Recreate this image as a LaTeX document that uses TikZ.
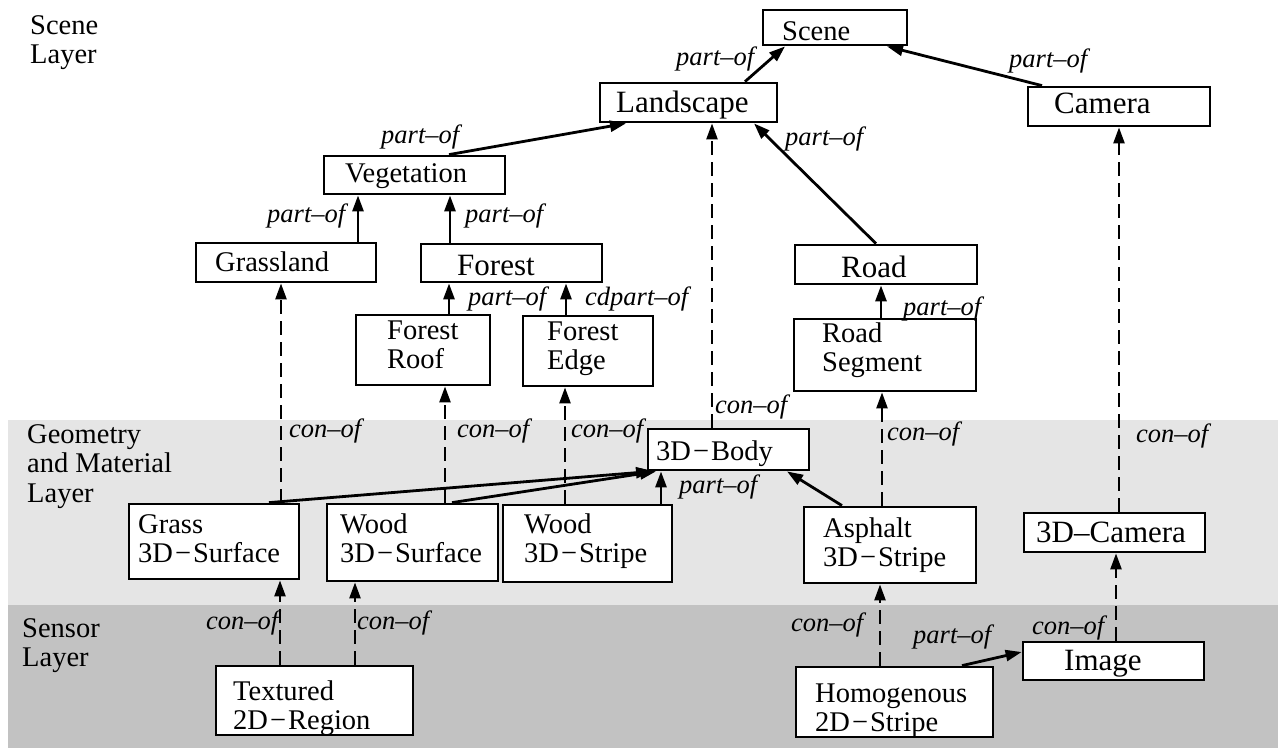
\documentclass[tikz,border=0pt]{standalone}
\usepackage{fontspec}
\setmainfont{Liberation Serif}
\usetikzlibrary{arrows.meta}
\newcommand\twoline[2]{\begin{tabular}[t]{@{}l@{}}#1\\#2\end{tabular}}
\newcommand\dm{\kern2pt−\kern2pt}
\begin{document}
\begin{tikzpicture}[x=1pt,y=-1pt,
  box/.style={draw, line width=2.8pt, fill=white, inner sep=0pt},
  txt/.style={inner sep=0pt, anchor=base west, font=\fontsize{28.5}{29.5}\selectfont},
  bigtxt/.style={inner sep=0pt, anchor=base west, font=\fontsize{31}{33}\selectfont},
  layertxt/.style={inner sep=0pt, anchor=base west, align=left, font=\fontsize{28.5}{29.5}\selectfont},
  lab/.style={inner sep=0pt, anchor=base west, font=\fontsize{26.5}{28}\selectfont\itshape},
  solidarrow/.style={line width=2.8pt, -{Triangle[length=16pt,width=11pt]}},
  dasharrow/.style={line width=2.4pt, dash pattern=on 14pt off 7pt, -{Triangle[length=16pt,width=11pt]}}
]
\useasboundingbox (0,0) rectangle (1278,748);
\fill[white] (0,0) rectangle (1278,748);
% layer bands
\fill[gray!20] (8,420) rectangle (1278,605);
\fill[gray!48] (8,605) rectangle (1278,748);

% layer labels
\node[layertxt] (lscene) at (30,34) {\twoline{Scene}{Layer}};
\node[layertxt] (lgeom) at (27,443) {\begin{tabular}[t]{@{}l@{}}Geometry\\and Material\\Layer\end{tabular}};
\node[layertxt] (lsensor) at (22,637) {\twoline{Sensor}{Layer}};

% boxes
\node[box, minimum width=144, minimum height=35] (scene) at (835,27.5) {};
\node[box, minimum width=177, minimum height=39] (land) at (688.5,102.5) {};
\node[box, minimum width=182, minimum height=39] (cam) at (1119,106.5) {};
\node[box, minimum width=181, minimum height=38] (veg) at (414.5,175) {};
\node[box, minimum width=180, minimum height=39] (grassland) at (286,262.5) {};
\node[box, minimum width=181, minimum height=38] (forest) at (511.5,263) {};
\node[box, minimum width=182, minimum height=39] (road) at (886,264.5) {};
\node[box, minimum width=134, minimum height=70] (froof) at (423,350) {};
\node[box, minimum width=130, minimum height=70] (fedge) at (588,351) {};
\node[box, minimum width=182, minimum height=72] (rseg) at (885,355) {};
\node[box, minimum width=161, minimum height=41] (body) at (728.5,449.5) {};
\node[box, minimum width=170, minimum height=75] (grass) at (214,541.5) {};
\node[box, minimum width=171, minimum height=77] (woods) at (412.5,542.5) {};
\node[box, minimum width=169, minimum height=77] (woodst) at (587.5,543.5) {};
\node[box, minimum width=172, minimum height=76] (asph) at (890,545) {};
\node[box, minimum width=181, minimum height=39] (camd) at (1114.5,532.5) {};
\node[box, minimum width=197, minimum height=69] (textured) at (314.5,700.5) {};
\node[box, minimum width=197, minimum height=70] (homog) at (894.5,702) {};
\node[box, minimum width=181, minimum height=38] (image) at (1113.5,661) {};

% box texts
\node[txt] (scene-t) at (782,40) {Scene};
\node[bigtxt] (land-t) at (616,112) {Landscape};
\node[bigtxt] (cam-t) at (1054,113) {Camera};
\node[txt] (veg-t) at (345,182) {Vegetation};
\node[txt] (grassland-t) at (215,271) {Grassland};
\node[bigtxt] (forest-t) at (457,275) {Forest};
\node[bigtxt] (road-t) at (841,277) {Road};
\node[txt] (froof-t) at (387,339) {\twoline{Forest}{Roof}};
\node[txt] (fedge-t) at (547,340) {\twoline{Forest}{Edge}};
\node[txt] (rseg-t) at (822,342) {\twoline{Road}{Segment}};
\node[txt] (body-t) at (656,460) {3D\dm Body};
\node[txt] (grass-t) at (138,533) {\twoline{Grass}{3D\dm Surface}};
\node[txt] (woods-t) at (340,533) {\twoline{Wood}{3D\dm Surface}};
\node[txt] (woodst-t) at (524,533) {\twoline{Wood}{3D\dm Stripe}};
\node[txt] (asph-t) at (823,537) {\twoline{Asphalt}{3D\dm Stripe}};
\node[bigtxt] (camd-t) at (1036,542) {3D–Camera};
\node[txt] (textured-t) at (233,700) {\twoline{Textured}{2D\dm Region}};
\node[txt] (homog-t) at (815,702) {\twoline{Homogenous}{2D\dm Stripe}};
\node[bigtxt] (image-t) at (1064,670) {Image};

% part-of connectors
\draw[solidarrow] (land.north -| 745,0) -- (scene.south -| 785,0);
\draw[solidarrow] (cam.north -| 1042,0) -- (scene.south -| 887,0);
\draw[solidarrow] (veg.north -| 449,0) -- (land.south -| 626,0);
\draw[solidarrow] (grassland.north -| 358,0) -- (veg.south -| 358,0);
\draw[solidarrow] (forest.north -| 450,0) -- (veg.south -| 450,0);
\draw[solidarrow] (road.north -| 876,0) -- (land.south -| 754,0);
\draw[solidarrow] (froof.north -| 449,0) -- (forest.south -| 449,0);
\draw[solidarrow] (fedge.north -| 566,0) -- (forest.south -| 566,0);
\draw[solidarrow] (rseg.north -| 881,0) -- (road.south -| 881,0);
\draw[solidarrow] (grass.north -| 269,0) -- (body.south -| 652,0);
\draw[solidarrow] (woods.north -| 452,0) -- (body.south -| 656,0);
\draw[solidarrow] (woodst.north -| 661,0) -- (body.south -| 661,0);
\draw[solidarrow] (asph.north -| 842,0) -- (body.south -| 787,0);
\draw[solidarrow] (homog.north -| 962,0) -- (image.west |- 0,652);

% con-of connectors
\draw[dasharrow] (grass.north -| 281,0) -- (grassland.south -| 281,0);
\draw[dasharrow] (woods.north -| 445,0) -- (froof.south -| 445,0);
\draw[dasharrow] (woodst.north -| 565,0) -- (fedge.south -| 565,0);
\draw[dasharrow] (body.north -| 712,0) -- (land.south -| 712,0);
\draw[dasharrow] (asph.north -| 882,0) -- (rseg.south -| 882,0);
\draw[dasharrow] (camd.north -| 1119,0) -- (cam.south -| 1119,0);
\draw[dasharrow] (textured.north -| 280,0) -- (grass.south -| 280,0);
\draw[dasharrow] (textured.north -| 355,0) -- (woods.south -| 355,0);
\draw[dasharrow] (homog.north -| 880,0) -- (asph.south -| 880,0);
\draw[dasharrow] (image.north -| 1116,0) -- (camd.south -| 1116,0);

% labels
\node[lab] (l1) at (676,65) {part–of};
\node[lab] (l2) at (1009,67) {part–of};
\node[lab] (l3) at (381,143) {part–of};
\node[lab] (l4) at (267,222) {part–of};
\node[lab] (l5) at (465,222) {part–of};
\node[lab] (l6) at (785,145) {part–of};
\node[lab] (l7) at (468,305) {part–of};
\node[lab] (l8) at (585,305) {cdpart–of};
\node[lab] (l9) at (903,315) {part–of};
\node[lab] (l10) at (679,493) {part–of};
\node[lab] (l11) at (913,643) {part–of};
\node[lab] (c1) at (289,437) {con–of};
\node[lab] (c2) at (457,437) {con–of};
\node[lab] (c3) at (571,437) {con–of};
\node[lab] (c4) at (715,413) {con–of};
\node[lab] (c5) at (887,440) {con–of};
\node[lab] (c6) at (1136,442) {con–of};
\node[lab] (c7) at (206,629) {con–of};
\node[lab] (c8) at (357,629) {con–of};
\node[lab] (c9) at (791,631) {con–of};
\node[lab] (c10) at (1032,634) {con–of};
\end{tikzpicture}
\end{document}
